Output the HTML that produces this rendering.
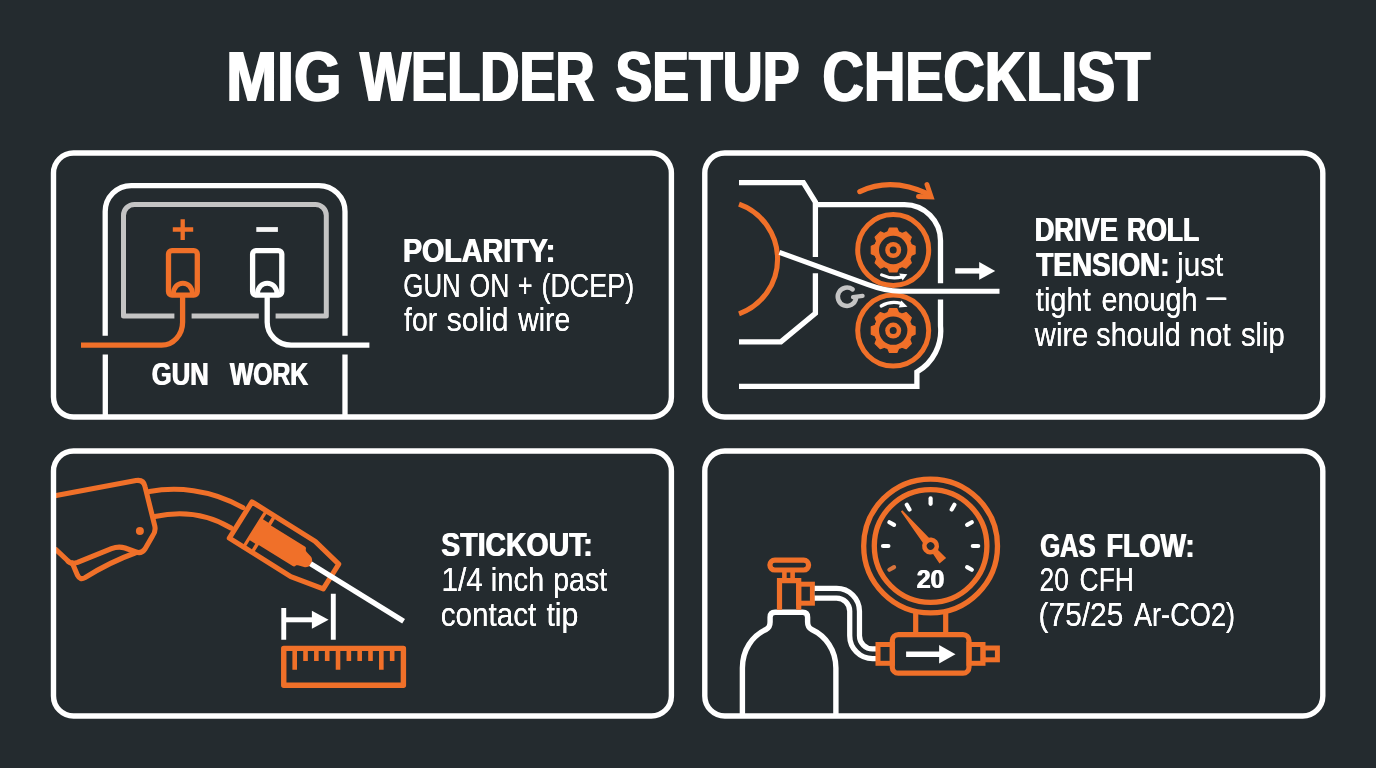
<!DOCTYPE html>
<html><head><meta charset="utf-8"><title>MIG Welder Setup Checklist</title>
<style>html,body{margin:0;padding:0;background:#242b2f;overflow:hidden}svg{display:block}text{font-family:"Liberation Sans",sans-serif}</style></head>
<body>
<svg width="1376" height="768" viewBox="0 0 1376 768" font-family="Liberation Sans, sans-serif">
<rect width="1376" height="768" fill="#242b2f"/>
<g fill="none" stroke-linecap="butt" stroke-linejoin="round">
<path d="M105.2,335.8 V211.6 A26,26 0 0 1 131.2,185.6 H319 A26,26 0 0 1 345,211.6 V335.8 M105.3,354.4 V415 M345,354.4 V415" stroke="#ffffff" stroke-width="5.3"/>
<path d="M174.4,316 H123.5 V215.4 A11,11 0 0 1 134.5,204.4 H315.3 A11,11 0 0 1 326.3,215.4 V316 H275.6 M191.6,316 H258.8" stroke="#c4c4c4" stroke-width="5"/>
<path d="M172.8,229.5 H193.2 M182.7,219.3 V240" stroke="#f07029" stroke-width="4.3"/>
<path d="M256.3,229.5 H277.9" stroke="#f6f6f6" stroke-width="4.8"/>
<rect x="168.5" y="250.6" width="28.8" height="44.5" rx="3.5" stroke="#f07029" stroke-width="5.3"/>
<path d="M173.3,294.5 C173.3,279.4 192.5,279.4 192.5,294.5" stroke="#f07029" stroke-width="5"/>
<path d="M182.6,295 V322.3 A21,22.9 0 0 1 161.6,345.2 H81" stroke="#f07029" stroke-width="5.3"/>
<rect x="252.6" y="250.6" width="29.2" height="44.5" rx="3.5" stroke="#ffffff" stroke-width="5.3"/>
<path d="M257.4,294.5 C257.4,279.4 277,279.4 277,294.5" stroke="#ffffff" stroke-width="5"/>
<path d="M267.2,295 V322.3 A24,22.9 0 0 0 291.2,345.2 H369.4" stroke="#ffffff" stroke-width="5.3"/>
</g>
<g fill="none" stroke-linejoin="miter">
<path d="M739,182.6 H803.4 L815.4,202 V256.9 M815.4,273.3 V313.2 L780.9,341.8 H739" stroke="#ffffff" stroke-width="5.3"/>
<path d="M815.4,204.6 H904.5 A36,36 0 0 1 940.5,240.6 V283.2 M940.5,299.4 V326 A47.6,47.6 0 0 1 916.9,372 V386.4 H739" stroke="#ffffff" stroke-width="5.3"/>
<path d="M739,204.2 A58.2,58.2 0 0 1 739,313.8" stroke="#f07029" stroke-width="5.1"/>
<circle cx="893.2" cy="250" r="35.5" stroke="#f07029" stroke-width="5"/>
<circle cx="893.2" cy="330.6" r="35.5" stroke="#f07029" stroke-width="5"/>
</g>
<g transform="translate(893.2,250)" fill="#f07029">
<circle r="19.4"/>
<path transform="rotate(0)" d="M-5.4,-17.9 L-3.7,-21.9 L3.7,-21.9 L5.4,-17.9 Z" stroke-linejoin="round" stroke-width="1.2" stroke="#f07029"/><path transform="rotate(45)" d="M-5.4,-17.9 L-3.7,-21.9 L3.7,-21.9 L5.4,-17.9 Z" stroke-linejoin="round" stroke-width="1.2" stroke="#f07029"/><path transform="rotate(90)" d="M-5.4,-17.9 L-3.7,-21.9 L3.7,-21.9 L5.4,-17.9 Z" stroke-linejoin="round" stroke-width="1.2" stroke="#f07029"/><path transform="rotate(135)" d="M-5.4,-17.9 L-3.7,-21.9 L3.7,-21.9 L5.4,-17.9 Z" stroke-linejoin="round" stroke-width="1.2" stroke="#f07029"/><path transform="rotate(180)" d="M-5.4,-17.9 L-3.7,-21.9 L3.7,-21.9 L5.4,-17.9 Z" stroke-linejoin="round" stroke-width="1.2" stroke="#f07029"/><path transform="rotate(225)" d="M-5.4,-17.9 L-3.7,-21.9 L3.7,-21.9 L5.4,-17.9 Z" stroke-linejoin="round" stroke-width="1.2" stroke="#f07029"/><path transform="rotate(270)" d="M-5.4,-17.9 L-3.7,-21.9 L3.7,-21.9 L5.4,-17.9 Z" stroke-linejoin="round" stroke-width="1.2" stroke="#f07029"/><path transform="rotate(315)" d="M-5.4,-17.9 L-3.7,-21.9 L3.7,-21.9 L5.4,-17.9 Z" stroke-linejoin="round" stroke-width="1.2" stroke="#f07029"/>
<circle r="14.2" fill="#242b2f"/>
<circle r="8"/>
<circle r="3.5" fill="#242b2f"/>
</g>
<g transform="translate(893.2,330.6)" fill="#f07029">
<circle r="19.4"/>
<path transform="rotate(0)" d="M-5.4,-17.9 L-3.7,-21.9 L3.7,-21.9 L5.4,-17.9 Z" stroke-linejoin="round" stroke-width="1.2" stroke="#f07029"/><path transform="rotate(45)" d="M-5.4,-17.9 L-3.7,-21.9 L3.7,-21.9 L5.4,-17.9 Z" stroke-linejoin="round" stroke-width="1.2" stroke="#f07029"/><path transform="rotate(90)" d="M-5.4,-17.9 L-3.7,-21.9 L3.7,-21.9 L5.4,-17.9 Z" stroke-linejoin="round" stroke-width="1.2" stroke="#f07029"/><path transform="rotate(135)" d="M-5.4,-17.9 L-3.7,-21.9 L3.7,-21.9 L5.4,-17.9 Z" stroke-linejoin="round" stroke-width="1.2" stroke="#f07029"/><path transform="rotate(180)" d="M-5.4,-17.9 L-3.7,-21.9 L3.7,-21.9 L5.4,-17.9 Z" stroke-linejoin="round" stroke-width="1.2" stroke="#f07029"/><path transform="rotate(225)" d="M-5.4,-17.9 L-3.7,-21.9 L3.7,-21.9 L5.4,-17.9 Z" stroke-linejoin="round" stroke-width="1.2" stroke="#f07029"/><path transform="rotate(270)" d="M-5.4,-17.9 L-3.7,-21.9 L3.7,-21.9 L5.4,-17.9 Z" stroke-linejoin="round" stroke-width="1.2" stroke="#f07029"/><path transform="rotate(315)" d="M-5.4,-17.9 L-3.7,-21.9 L3.7,-21.9 L5.4,-17.9 Z" stroke-linejoin="round" stroke-width="1.2" stroke="#f07029"/>
<circle r="14.2" fill="#242b2f"/>
<circle r="8"/>
<circle r="3.5" fill="#242b2f"/>
</g>
<path d="M779.4,252.4 L868,284.6 Q886,291.2 900,291.2 H999.5" fill="none" stroke="#ffffff" stroke-width="5.1"/>
<path d="M881.6,274.9 Q891.5,279.6 902,276.9" fill="none" stroke="#ffffff" stroke-width="3.2" stroke-linecap="round"/>
<path d="M899.2,273.4 L907.3,274.2 L902.6,280.6 Z" fill="#ffffff"/>
<path d="M881.2,306 Q890.5,300.6 901,303.4" fill="none" stroke="#ffffff" stroke-width="3.2" stroke-linecap="round"/>
<path d="M901.3,300.4 L907.5,306.8 L898.8,307.6 Z" fill="#ffffff"/>
<path d="M859.8,191.6 Q891.6,176.6 928.5,194.2" fill="none" stroke="#f07029" stroke-width="5.2" stroke-linecap="round"/>
<path d="M926.9,184.4 L931.2,196.9 L918.4,196.5" fill="none" stroke="#f07029" stroke-width="4.8" stroke-linejoin="miter" stroke-linecap="round"/>
<path d="M852.6,289.4 A9.2,9.2 0 1 0 856,298.6" fill="none" stroke="#c4c4c4" stroke-width="4.6" stroke-linecap="round"/>
<path d="M853,297.2 L862.6,295.9" fill="none" stroke="#c4c4c4" stroke-width="4.2" stroke-linecap="round"/>
<path d="M955.2,270.9 H981" stroke="#ffffff" stroke-width="5.4"/>
<path d="M979.2,262 L995.2,270.9 L979.2,279.8 Z" fill="#ffffff"/>
<g fill="none" stroke="#f07029" stroke-width="5.1" stroke-linejoin="round" stroke-linecap="round">
<path d="M56.2,495.6 L136,480.6 Q143.5,479.4 145,486.5 L154.8,526 Q156,531.5 152.5,536 L145,549 Q141.5,554 136,552 L125,548 Q118.5,546 111.5,548.6 L77.5,562.4 Q70.5,565 67,560 L56.2,549.8"/>
<path d="M72.3,563 L77.6,575.4 Q80,580.4 85,577.6 Q110,562 135,553"/>
<path d="M149.4,491.6 C175,486.6 210,488.8 243,507.6"/>
<path d="M154.8,516.5 C178,511.5 205,512.5 231,528"/>
</g>
<circle cx="139.9" cy="531.1" r="4" fill="#f07029"/>
<g transform="translate(241.1,520.3) rotate(32)">
<path d="M-0.5,-21.4 H74 L106,-14.6 V14.6 L72,21.4 H-0.5 Z" fill="none" stroke="#f07029" stroke-width="5.1" stroke-linejoin="round"/>
<path d="M14.7,-21.4 H28 V-11.5 H68 Q70,-11.5 70.5,-9 L72,-8 L79,-6 Q82.5,-4 82.5,0 Q82.5,4 79,6 L72,8 L70.5,9 Q70,11.5 68,11.5 H28 V21.4 H14.7 Z" fill="#f07029"/>
<rect x="18" y="-18.8" width="6.5" height="6.4" fill="#242b2f"/>
<rect x="18" y="12.4" width="6.5" height="6.4" fill="#242b2f"/>
</g>
<path d="M310.6,563.8 L403.6,621.3" stroke="#ffffff" stroke-width="5.4"/>
<path d="M283.75,608.1 V639.7 M333.3,593.75 V639.7" stroke="#ffffff" stroke-width="4.9"/>
<path d="M283.75,619.8 H314" stroke="#ffffff" stroke-width="5"/>
<path d="M311.9,610.8 L328.6,619.8 L311.9,628.8 Z" fill="#ffffff"/>
<rect x="283.75" y="648.4" width="119.65" height="36.9" stroke="#f07029" stroke-width="5.4" fill="none" stroke-linejoin="round"/>
<path d="M294.70,648.4 V669.8 M305.53,648.4 V660.9 M316.36,648.4 V660.9 M327.19,648.4 V660.9 M338.02,648.4 V669.8 M348.85,648.4 V660.9 M359.68,648.4 V660.9 M370.51,648.4 V660.9 M381.34,648.4 V669.8 M392.17,648.4 V660.9 " stroke="#f07029" stroke-width="4.6"/>
<path d="M742.4,714 V668 C742.4,650 752,636 766,629.5 Q770.1,627.5 770.1,622 V617.2 Q770.1,612.2 775.1,612.2 H802.6 Q807.6,612.2 807.6,617.2 V622 Q807.6,627.5 811.7,629.5 C825.7,636 835.9,650 835.9,668 V714" fill="none" stroke="#ffffff" stroke-width="5.4"/>
<g fill="none" stroke="#f07029" stroke-linejoin="miter">
<rect x="769.9" y="560.2" width="38.7" height="9.8" rx="4.9" stroke-width="5.2"/>
<path d="M784.4,572 V581 M792.6,572 V581" stroke-width="4.6"/>
<path d="M779.5,609.8 V580.7 H798.7 V609.8" stroke-width="5.2"/>
<rect x="798.7" y="584.2" width="13.7" height="19" stroke-width="5"/>
</g>
<path d="M814.7,593.2 H836.6 A18,18 0 0 1 854.6,611.2 V635.8 A18,18 0 0 0 872.6,653.8 H876" fill="none" stroke="#ffffff" stroke-width="15"/>
<path d="M814.7,593.2 H836.6 A18,18 0 0 1 854.6,611.2 V635.8 A18,18 0 0 0 872.6,653.8 H876" fill="none" stroke="#242b2f" stroke-width="4.5"/>
<g fill="none" stroke="#f07029">
<circle cx="930.6" cy="546" r="66.9" stroke-width="5.3"/>
<circle cx="930.6" cy="546" r="56.3" stroke-width="5.3"/>
<path d="M915.7,611 V634.6 M945.7,611 V634.6" stroke-width="5.2"/>
<rect x="892.3" y="634.6" width="76.7" height="38.6" rx="6" stroke-width="5.2"/>
<rect x="878" y="644.5" width="14.3" height="18.8" stroke-width="5"/>
<rect x="969" y="644.5" width="14" height="18.8" stroke-width="5"/>
<rect x="983" y="648" width="14.4" height="11.8" stroke-width="5"/>
</g>
<path transform="translate(930.6,546) rotate(-120)" d="M0,-42.2 V-47.6" stroke="#d8743d" stroke-width="4.2" stroke-linecap="round"/>
<path transform="translate(930.6,546) rotate(-90)" d="M0,-42.2 V-47.6" stroke="#ffffff" stroke-width="4.2" stroke-linecap="round"/>
<path transform="translate(930.6,546) rotate(-60)" d="M0,-42.2 V-47.6" stroke="#ffffff" stroke-width="4.2" stroke-linecap="round"/>
<path transform="translate(930.6,546) rotate(-30)" d="M0,-42.2 V-47.6" stroke="#ffffff" stroke-width="4.2" stroke-linecap="round"/>
<path transform="translate(930.6,546) rotate(0)" d="M0,-42.2 V-47.6" stroke="#ffffff" stroke-width="4.2" stroke-linecap="round"/>
<path transform="translate(930.6,546) rotate(30)" d="M0,-42.2 V-47.6" stroke="#ffffff" stroke-width="4.2" stroke-linecap="round"/>
<path transform="translate(930.6,546) rotate(60)" d="M0,-42.2 V-47.6" stroke="#ffffff" stroke-width="4.2" stroke-linecap="round"/>
<path transform="translate(930.6,546) rotate(90)" d="M0,-42.2 V-47.6" stroke="#ffffff" stroke-width="4.2" stroke-linecap="round"/>
<path transform="translate(930.6,546) rotate(120)" d="M0,-42.2 V-47.6" stroke="#ffffff" stroke-width="4.2" stroke-linecap="round"/>
<g transform="translate(930.6,546) rotate(-39.5)" fill="#f07029">
<path d="M-0.9,-45.6 L0.9,-45.6 L4.1,-5 L3,6 L4.3,19.2 L-4.3,19.2 L-3,6 L-4.1,-5 Z"/>
<circle r="8.5"/><circle r="3.8" fill="#242b2f"/>
</g>
<path d="M906.1,654.2 H941" stroke="#ffffff" stroke-width="5.6"/>
<path d="M939.1,644.9 L955.5,654.2 L939.1,663.5 Z" fill="#ffffff"/>
<g fill="none" stroke="#ffffff" stroke-width="5.4">
<rect x="53.5" y="153" width="617.9" height="264" rx="20" ry="20"/>
<rect x="704.8" y="153" width="618.0" height="264" rx="20" ry="20"/>
<rect x="53.5" y="451" width="617.9" height="265" rx="20" ry="20"/>
<rect x="704.8" y="451" width="618.0" height="265" rx="20" ry="20"/>
</g>
<defs>
<filter id="ftitle" x="-15%" y="-15%" width="130%" height="130%"><feOffset in="SourceGraphic" dx="2.0" dy="0" result="o"/><feMerge><feMergeNode in="o"/><feMergeNode in="SourceGraphic"/></feMerge></filter>
<filter id="fbold" x="-15%" y="-15%" width="130%" height="130%"><feOffset in="SourceGraphic" dx="0.8" dy="0" result="o"/><feMerge><feMergeNode in="o"/><feMergeNode in="SourceGraphic"/></feMerge></filter>
<filter id="freg" x="-15%" y="-15%" width="130%" height="130%"><feOffset in="SourceGraphic" dx="0.45" dy="0" result="o"/><feMerge><feMergeNode in="o"/><feMergeNode in="SourceGraphic"/></feMerge></filter>
</defs>
<g fill="#ffffff">
<g filter="url(#ftitle)"><text transform="translate(225.27,100.50) scale(0.8661,1)" font-weight="700" font-size="70.5">MIG</text></g>
<g filter="url(#ftitle)"><text transform="translate(359.00,100.50) scale(0.7684,1)" font-weight="700" font-size="70.5">WELDER</text></g>
<g filter="url(#ftitle)"><text transform="translate(614.43,100.50) scale(0.7835,1)" font-weight="700" font-size="70.5">SETUP</text></g>
<g filter="url(#ftitle)"><text transform="translate(821.56,100.50) scale(0.8125,1)" font-weight="700" font-size="70.5">CHECKLIST</text></g>
<g filter="url(#fbold)"><text transform="translate(402.39,261.90) scale(0.8566,1)" font-weight="700" font-size="33.5">POLARITY:</text></g>
<g filter="url(#freg)"><text transform="translate(403.30,296.80) scale(0.7964,1)" font-weight="400" font-size="32.5">GUN</text></g>
<g filter="url(#freg)"><text transform="translate(469.58,296.80) scale(0.8167,1)" font-weight="400" font-size="32.5">ON</text></g>
<g filter="url(#freg)"><text transform="translate(517.72,296.80) scale(0.7794,1)" font-weight="400" font-size="32.5">+</text></g>
<g filter="url(#freg)"><text transform="translate(541.44,296.80) scale(0.8282,1)" font-weight="400" font-size="32.5">(DCEP)</text></g>
<g filter="url(#freg)"><text transform="translate(404.10,331.30) scale(0.8724,1)" font-weight="400" font-size="32.5">for</text></g>
<g filter="url(#freg)"><text transform="translate(446.78,331.30) scale(0.9242,1)" font-weight="400" font-size="32.5">solid</text></g>
<g filter="url(#freg)"><text transform="translate(518.20,331.30) scale(0.8750,1)" font-weight="400" font-size="32.5">wire</text></g>
<g filter="url(#fbold)"><text transform="translate(151.36,385.00) scale(0.8385,1)" font-weight="700" font-size="30.5">GUN</text></g>
<g filter="url(#fbold)"><text transform="translate(229.40,385.00) scale(0.8115,1)" font-weight="700" font-size="30.5">WORK</text></g>
<g filter="url(#fbold)"><text transform="translate(1034.17,241.30) scale(0.8141,1)" font-weight="700" font-size="33.5">DRIVE</text></g>
<g filter="url(#fbold)"><text transform="translate(1126.41,241.30) scale(0.7943,1)" font-weight="700" font-size="33.5">ROLL</text></g>
<g filter="url(#fbold)"><text transform="translate(1035.80,276.00) scale(0.8325,1)" font-weight="700" font-size="33.5">TENSION:</text></g>
<g filter="url(#freg)"><text transform="translate(1177.02,276.00) scale(0.9163,1)" font-weight="400" font-size="32.5">just</text></g>
<g filter="url(#freg)"><text transform="translate(1035.80,311.00) scale(0.8944,1)" font-weight="400" font-size="32.5">tight</text></g>
<g filter="url(#freg)"><text transform="translate(1101.62,311.00) scale(0.8833,1)" font-weight="400" font-size="32.5">enough</text></g>
<g filter="url(#fbold)"><text transform="translate(1206.50,305.30) scale(0.7833,1)" font-weight="700" font-size="24">—</text></g>
<g filter="url(#freg)"><text transform="translate(1034.80,345.90) scale(0.8991,1)" font-weight="400" font-size="32.5">wire</text></g>
<g filter="url(#freg)"><text transform="translate(1096.32,345.90) scale(0.8812,1)" font-weight="400" font-size="32.5">should</text></g>
<g filter="url(#freg)"><text transform="translate(1189.58,345.90) scale(0.9105,1)" font-weight="400" font-size="32.5">not</text></g>
<g filter="url(#freg)"><text transform="translate(1240.90,345.90) scale(0.8968,1)" font-weight="400" font-size="32.5">slip</text></g>
<g filter="url(#fbold)"><text transform="translate(440.85,556.25) scale(0.8480,1)" font-weight="700" font-size="33.5">STICKOUT:</text></g>
<g filter="url(#freg)"><text transform="translate(441.46,591.10) scale(0.9179,1)" font-weight="400" font-size="32.5">1/4</text></g>
<g filter="url(#freg)"><text transform="translate(490.70,591.10) scale(0.8991,1)" font-weight="400" font-size="32.5">inch</text></g>
<g filter="url(#freg)"><text transform="translate(553.25,591.10) scale(0.8775,1)" font-weight="400" font-size="32.5">past</text></g>
<g filter="url(#freg)"><text transform="translate(440.79,626.25) scale(0.9120,1)" font-weight="400" font-size="32.5">contact</text></g>
<g filter="url(#freg)"><text transform="translate(546.40,626.25) scale(0.9348,1)" font-weight="400" font-size="32.5">tip</text></g>
<g filter="url(#fbold)"><text transform="translate(1039.63,556.50) scale(0.7662,1)" font-weight="700" font-size="33.5">GAS</text></g>
<g filter="url(#fbold)"><text transform="translate(1105.88,556.50) scale(0.8077,1)" font-weight="700" font-size="33.5">FLOW:</text></g>
<g filter="url(#freg)"><text transform="translate(1039.59,590.80) scale(0.8103,1)" font-weight="400" font-size="32.5">20</text></g>
<g filter="url(#freg)"><text transform="translate(1079.58,590.80) scale(0.8121,1)" font-weight="400" font-size="32.5">CFH</text></g>
<g filter="url(#freg)"><text transform="translate(1038.56,626.30) scale(0.9197,1)" font-weight="400" font-size="32.5">(75/25</text></g>
<g filter="url(#freg)"><text transform="translate(1133.90,626.30) scale(0.8366,1)" font-weight="400" font-size="32.5">Ar-CO2)</text></g>
<g filter="url(#fbold)"><text transform="translate(916.24,588.10) scale(0.9593,1)" font-weight="700" font-size="26">20</text></g>
</g>
</svg>
</body></html>
